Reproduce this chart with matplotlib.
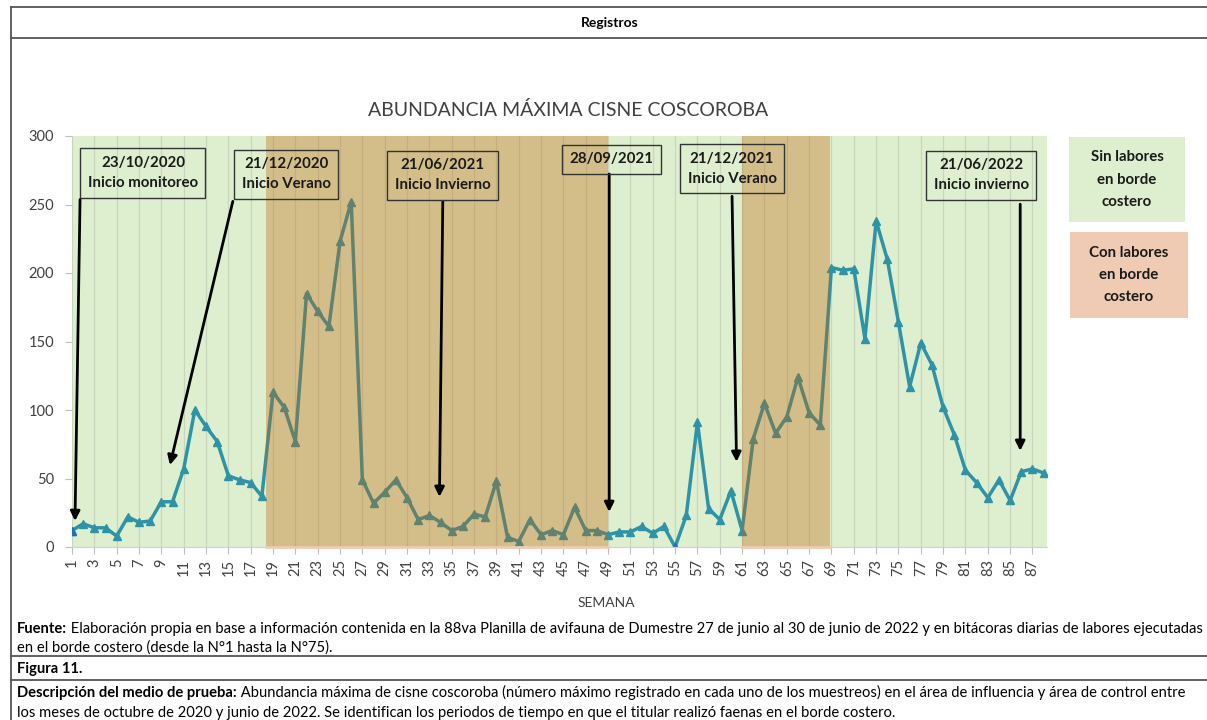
import matplotlib
matplotlib.use("Agg")
import matplotlib.pyplot as plt
from matplotlib.patches import Rectangle
from matplotlib.lines import Line2D

# datos
semanas = list(range(1, 89))
abundancia = [12, 17, 14, 14, 8, 22, 18, 19, 33, 33,
              57, 100, 88, 77, 52, 49, 47, 37, 113, 102,
              77, 185, 172, 161, 223, 252, 49, 32, 40, 49,
              36, 20, 23, 18, 12, 15, 24, 22, 48, 7,
              4, 20, 9, 12, 9, 29, 12, 12, 9, 11,
              11, 15, 10, 15, 0, 23, 91, 28, 20, 41,
              12, 79, 105, 83, 95, 124, 98, 89, 204, 202,
              203, 152, 238, 210, 164, 117, 149, 133, 102, 82,
              56, 47, 36, 49, 34, 55, 57, 54]
semanas_resaltadas = [1, 55]
periodos_labores = [(18.4, 49.0), (61.0, 68.9)]
eventos = ["23/10/2020\nInicio monitoreo", "21/12/2020\nInicio Verano",
           "21/06/2021\nInicio Invierno", "28/09/2021",
           "21/12/2021\nInicio Verano", "21/06/2022\nInicio invierno"]
# posicion de cada caja y de la punta de su flecha (semana, valor)
caja_pos = [(7.35, 273), (20.2, 272), (34.2, 271.5), (49.3, 283), (60.1, 276), (82.4, 271.5)]
flecha_ini = [(1.72, 253.7), (15.4, 252.3), (34.2, 252.3), (49.1, 272.3), (60.1, 256), (85.9, 250.2)]
flecha_fin = [(1.27, 19.0), (9.77, 59.8), (33.9, 36.6), (49.1, 25.6), (60.5, 62.2), (85.9, 70.2)]

W, H = 1207, 720
verde = '#DEEFCF'
cafe = '#C1630A'
rosado = '#EFCBB3'
teal = '#2E93A6'
gris_txt = '#404040'

plt.rcParams['font.family'] = ['Lato', 'DejaVu Sans']


def fx(px):
    return px / W


def fy(py):
    return 1 - py / H


fig = plt.figure(figsize=(W / 100, H / 100), dpi=100)
ax = fig.add_axes([fx(72), fy(547), fx(1047 - 72), (547 - 136) / H])
ax.set_facecolor(verde)

ax.plot(semanas, abundancia, color=teal, lw=2.5, marker='^', ms=6, zorder=2)
idx = [s - 1 for s in semanas_resaltadas]
ax.plot([semanas[i] for i in idx], [abundancia[i] for i in idx], ls='none',
        marker='^', ms=6, color='#1F6FC0', zorder=2.5)

for a, b in periodos_labores:
    ax.axvspan(a, b, color=cafe, alpha=0.35, lw=0, zorder=3)
    ax.plot([a, b], [0, 0], color=rosado, lw=2, clip_on=False, zorder=4)

ax.set_xlim(1, 88.3)
ax.set_ylim(0, 300)
ax.set_xticks(semanas[::2])
ax.set_xticklabels([str(s) for s in semanas[::2]], rotation=90)
ax.set_yticks(range(0, 301, 50))
ax.grid(axis='x', color='#C9D6BD', lw=0.9, zorder=1)
ax.set_axisbelow(True)
for s in ['top', 'right', 'left']:
    ax.spines[s].set_visible(False)
ax.spines['bottom'].set_color('#D0D0D0')
ax.tick_params(axis='both', colors='#BFBFBF', labelcolor=gris_txt, labelsize=10.5, length=5)
ax.tick_params(axis='y', pad=8)

for txt, pos, p0, p1 in zip(eventos, caja_pos, flecha_ini, flecha_fin):
    ax.annotate('', xy=p1, xytext=p0, zorder=6,
                arrowprops=dict(arrowstyle='-|>', color='black', lw=2, mutation_scale=14,
                                shrinkA=0, shrinkB=0))
    ax.text(pos[0], pos[1], txt, ha='center', va='center', fontsize=10.8, fontweight='bold',
            color='#1A1A1A', linespacing=1.55, zorder=7,
            bbox=dict(boxstyle='square,pad=0.5', fc='none', ec='#333333', lw=1))

# titulos
fig.text(fx(610), fy(23), 'Registros', ha='center', va='center', fontsize=10, fontweight='bold')
fig.text(fx(568), fy(110), 'ABUNDANCIA MÁXIMA CISNE COSCOROBA', ha='center', va='center',
         fontsize=14, color=gris_txt)
fig.text(fx(606), fy(603), 'SEMANA', ha='center', va='center', fontsize=10, color=gris_txt)

# cajas de leyenda
for y0, y1, x0, x1, col, txt in [(137, 222, 1069, 1185, verde, 'Sin labores\nen borde\ncostero'),
                                  (232, 318, 1070, 1188, rosado, 'Con labores\nen borde\ncostero')]:
    fig.add_artist(Rectangle((fx(x0), fy(y1)), fx(x1 - x0), (y1 - y0) / H,
                             transform=fig.transFigure, fc=col, ec='none'))
    fig.text(fx((x0 + x1) / 2), fy((y0 + y1) / 2), txt, ha='center', va='center',
             fontsize=10.8, fontweight='bold', linespacing=1.75, color='#1A1A1A')

# marco de la tabla
for x0, y0, x1, y1 in [(11, 7, 1207, 7), (11, 38, 1207, 38), (11, 656, 1207, 656),
                       (11, 680, 1207, 680), (11, 7, 11, 720)]:
    fig.add_artist(Line2D([fx(x0), fx(x1)], [fy(y0), fy(y1)], transform=fig.transFigure,
                          color='#555555', lw=1.3))


def linea(py, negrita, resto, size=10.65):
    peso = 'bold' if resto is not None else 'normal'
    t = fig.text(fx(17), fy(py), negrita, ha='left', va='bottom', fontsize=size, fontweight=peso)
    if resto:
        ax.annotate(resto, xy=(1, 0), xycoords=t, ha='left', va='bottom', fontsize=size,
                    annotation_clip=False)


linea(636, 'Fuente:', ' Elaboración propia en base a información contenida en la 88va Planilla de '
      'avifauna de Dumestre 27 de junio al 30 de junio de 2022 y en bitácoras diarias de labores ejecutadas')
linea(655, 'en el borde costero (desde la N°1 hasta la N°75).', None)
linea(676, 'Figura 11.', '')
linea(700, 'Descripción del medio de prueba:', ' Abundancia máxima de cisne coscoroba (número máximo '
      'registrado en cada uno de los muestreos) en el área de influencia y área de control entre')
linea(720, 'los meses de octubre de 2020 y junio de 2022. Se identifican los periodos de tiempo en que '
      'el titular realizó faenas en el borde costero.', None)

fig.savefig('out.png', dpi=100)
